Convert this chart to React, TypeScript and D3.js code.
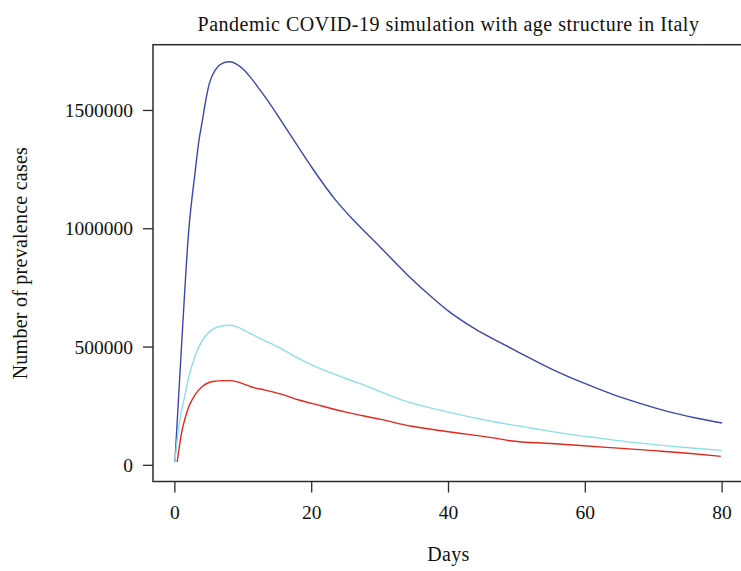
import React from "react";
import * as d3 from "d3";

const title = "Pandemic COVID-19 simulation with age structure in Italy";
const xLabel = "Days";
const yLabel = "Number of prevalence cases";
const xTicks = [0, 20, 40, 60, 80];
const yTicks = [0, 500000, 1000000, 1500000];

const blueDays = [0, 1, 2, 3, 3.5, 4, 4.5, 5, 6, 7, 8, 9, 10, 11, 12, 14, 16, 18, 20, 23.5, 26, 30, 34, 38, 40, 44, 47.5, 50, 55, 60, 64, 68, 72, 76, 80];
const blueVals = [14000, 519000, 983000, 1250000, 1370000, 1455000, 1540000, 1610000, 1675000, 1700000, 1706000, 1696000, 1674000, 1642000, 1604000, 1524000, 1436000, 1347000, 1260000, 1121000, 1040000, 923000, 805000, 700000, 652000, 575000, 520000, 482000, 408000, 345000, 300000, 262000, 228000, 201000, 179000];

const cyanDays = [0, 0.5, 1, 1.5, 2, 3, 4, 5, 6, 7, 8, 9, 10, 12, 14, 16, 18, 20, 25, 28, 33, 40, 47, 52, 57, 62, 67, 72, 76, 80];
const cyanVals = [14000, 150000, 235000, 300000, 370000, 465000, 528000, 563000, 582000, 590000, 592000, 586000, 573000, 543000, 515000, 486000, 453000, 425000, 367000, 335000, 278000, 225000, 182000, 158000, 134000, 115000, 97000, 82000, 72000, 63000];

const redDays = [0.33, 1, 1.5, 2, 3, 4, 5, 6, 7, 8, 9, 10, 11.2, 13.2, 16, 18, 20, 25, 30, 34.6, 40, 46.8, 49, 55, 63.6, 70, 75, 79.8];
const redVals = [14000, 140000, 200000, 245000, 300000, 333000, 350000, 356000, 358000, 358000, 354000, 344000, 331000, 318000, 297000, 277000, 262000, 225000, 195000, 165000, 142000, 115000, 104000, 92000, 75000, 62000, 51000, 38000];

const seriesList = [
  { days: blueDays, vals: blueVals, color: "#3b47ad" },
  { days: cyanDays, vals: cyanVals, color: "#8ddfe5" },
  { days: redDays, vals: redVals, color: "#e2281c" },
];

export default function App() {
  const W = 741;
  const H = 571;
  const left = 153;
  const right = 744;
  const top = 44.7;
  const bottom = 481.5;
  const x = d3.scaleLinear().domain([-3.2, 83.2]).range([left, right]);
  const y = d3.scaleLinear().domain([-68400, 1778000]).range([bottom, top]);
  const line = d3
    .line<[number, number]>()
    .x((d) => x(d[0]))
    .y((d) => y(d[1]))
    .curve(d3.curveMonotoneX);
  const font = "'Liberation Serif', 'Times New Roman', serif";
  const axisColor = "#2b2b2b";
  return (
    <svg
      width={W}
      height={H}
      style={{ position: "absolute", left: 0, top: 0, background: "#fff" }}
      fontFamily={font}
    >
      <rect x={0} y={0} width={W} height={H} fill="#fff" />
      <defs>
        <clipPath id="plotclip">
          <rect x={left} y={top} width={right - left} height={bottom - top} />
        </clipPath>
      </defs>
      <g clipPath="url(#plotclip)">
        {seriesList.map((s, i) => (
          <path
            key={i}
            d={line(s.days.map((d, j) => [d, s.vals[j]] as [number, number])) || ""}
            fill="none"
            stroke={s.color}
            strokeWidth={1.4}
          />
        ))}
      </g>
      <rect
        x={left}
        y={top}
        width={right - left}
        height={bottom - top}
        fill="none"
        stroke={axisColor}
        strokeWidth={1.5}
      />
      {xTicks.map((t) => (
        <g key={t}>
          <line x1={x(t)} x2={x(t)} y1={bottom} y2={bottom + 11} stroke={axisColor} strokeWidth={1.3} />
          <text x={x(t)} y={518.5} fontSize={19.5} textAnchor="middle" fill="#111">
            {t}
          </text>
        </g>
      ))}
      {yTicks.map((t) => (
        <g key={t}>
          <line x1={left - 10} x2={left} y1={y(t)} y2={y(t)} stroke={axisColor} strokeWidth={1.3} />
          <text x={133} y={y(t) + 6.5} fontSize={19.5} textAnchor="end" fill="#111">
            {t}
          </text>
        </g>
      ))}
      <text x={448.5} y={31} fontSize={20} letterSpacing={0.5} textAnchor="middle" fill="#111">
        {title}
      </text>
      <text x={448.5} y={561} fontSize={20} letterSpacing={0.3} textAnchor="middle" fill="#111">
        {xLabel}
      </text>
      <text
        transform={`translate(27, ${(top + bottom) / 2}) rotate(-90)`}
        fontSize={20}
        letterSpacing={0.25}
        textAnchor="middle"
        fill="#111"
      >
        {yLabel}
      </text>
    </svg>
  );
}
